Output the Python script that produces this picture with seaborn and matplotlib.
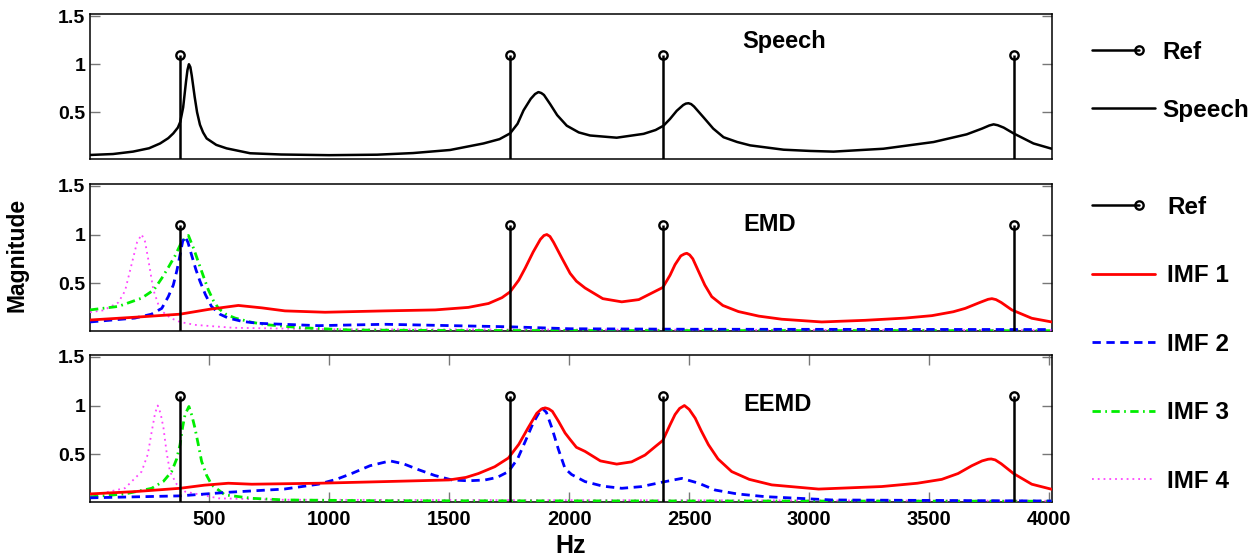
import numpy as np
import pandas as pd
import matplotlib
matplotlib.use("Agg")
import matplotlib.pyplot as plt
import seaborn as sns
from matplotlib.lines import Line2D
from matplotlib.legend_handler import HandlerBase

# ---------------------------------------------------------------- data
ref_hz = [379, 1754, 2390, 3852]
ref_mag = [1.1, 1.1, 1.1, 1.1]

speech_hz = [4, 100, 183, 250, 296, 330, 351, 370, 380, 392, 404, 410, 416, 422, 428, 440,
             450, 462, 475, 490, 530, 573, 671, 800, 1000, 1200, 1350, 1504, 1643, 1710,
             1754, 1785, 1810, 1840, 1858, 1872, 1884, 1895, 1921, 1950, 1990, 2040, 2087,
             2198, 2310, 2360, 2393, 2420, 2448, 2475, 2486, 2497, 2508, 2520, 2560, 2600,
             2643, 2700, 2754, 2893, 3004, 3101, 3309, 3518, 3656, 3720, 3750, 3768, 3785,
             3810, 3851, 3934, 4010]
speech_mag = [0.055, 0.065, 0.09, 0.125, 0.175, 0.23, 0.28, 0.34, 0.40, 0.55, 0.82, 0.94,
              1.0, 0.97, 0.88, 0.66, 0.50, 0.37, 0.29, 0.227, 0.16, 0.124, 0.073, 0.06,
              0.053, 0.058, 0.075, 0.107, 0.175, 0.22, 0.28, 0.38, 0.52, 0.64, 0.69, 0.71,
              0.70, 0.68, 0.584, 0.47, 0.36, 0.29, 0.258, 0.235, 0.275, 0.315, 0.36, 0.43,
              0.515, 0.575, 0.59, 0.594, 0.585, 0.56, 0.446, 0.33, 0.24, 0.19, 0.155, 0.11,
              0.097, 0.09, 0.12, 0.19, 0.27, 0.33, 0.362, 0.374, 0.365, 0.34, 0.28, 0.175,
              0.12]

# EMD intrinsic mode functions
emd_imf1_hz = [4, 200, 379, 500, 622, 720, 816, 983, 1233, 1442, 1580, 1664, 1720, 1754,
               1790, 1817, 1850, 1880, 1895, 1907, 1920, 1935, 1969, 2004, 2030, 2066, 2140,
               2219, 2290, 2330, 2390, 2420, 2441, 2465, 2480, 2490, 2502, 2515, 2539, 2565,
               2594, 2640, 2705, 2790, 2886, 3052, 3233, 3400, 3511, 3600, 3650, 3710, 3745,
               3761, 3778, 3800, 3844, 3927, 4010]
emd_imf1_mag = [0.12, 0.15, 0.18, 0.23, 0.27, 0.245, 0.214, 0.20, 0.214, 0.224, 0.25,
                0.29, 0.35, 0.41, 0.53, 0.655, 0.82, 0.95, 0.99, 1.0, 0.98, 0.92, 0.76,
                0.60, 0.52, 0.45, 0.34, 0.307, 0.33, 0.38, 0.455, 0.58, 0.69, 0.78, 0.80,
                0.807, 0.79, 0.75, 0.62, 0.48, 0.36, 0.27, 0.207, 0.16, 0.128, 0.10, 0.117,
                0.14, 0.165, 0.205, 0.24, 0.30, 0.333, 0.34, 0.33, 0.30, 0.224, 0.138, 0.10]

emd_imf2_hz = [4, 191, 260, 303, 330, 351, 366, 379, 390, 400, 412, 427, 445, 462, 485,
               510, 545, 580, 640, 705, 955, 1233, 1511, 1754, 2004, 2500, 4010]
emd_imf2_mag = [0.10, 0.14, 0.18, 0.24, 0.36, 0.48, 0.63, 0.79, 0.93, 0.98, 0.92, 0.79,
                0.64, 0.52, 0.38, 0.26, 0.18, 0.14, 0.105, 0.086, 0.062, 0.076, 0.062,
                0.05, 0.03, 0.025, 0.022]

emd_imf3_hz = [4, 122, 219, 270, 303, 330, 358, 385, 414, 435, 455, 475, 497, 518, 539,
               570, 608, 680, 747, 886, 1094, 1500, 4010]
emd_imf3_mag = [0.224, 0.26, 0.345, 0.43, 0.55, 0.66, 0.78, 0.92, 0.99, 0.86, 0.72, 0.58,
                0.43, 0.32, 0.24, 0.18, 0.14, 0.095, 0.07, 0.04, 0.017, 0.012, 0.01]

emd_imf4_hz = [4, 60, 122, 150, 178, 200, 219, 233, 247, 268, 296, 340, 379, 441, 600,
               1000, 4010]
emd_imf4_mag = [0.20, 0.22, 0.30, 0.42, 0.70, 0.92, 1.0, 0.93, 0.74, 0.43, 0.225, 0.14,
                0.10, 0.07, 0.04, 0.025, 0.015]

# EEMD intrinsic mode functions
eemd_imf1_hz = [4, 191, 379, 480, 580, 678, 955, 1233, 1500, 1570, 1622, 1690, 1747, 1790,
                1829, 1865, 1885, 1900, 1915, 1930, 1955, 1983, 2004, 2030, 2066, 2130,
                2198, 2260, 2316, 2360, 2390, 2420, 2441, 2460, 2480, 2500, 2525, 2550,
                2580, 2620, 2677, 2750, 2844, 3039, 3302, 3450, 3552, 3620, 3677, 3720,
                3745, 3758, 3775, 3800, 3851, 3927, 4010]
eemd_imf1_mag = [0.09, 0.114, 0.148, 0.18, 0.20, 0.19, 0.20, 0.217, 0.234, 0.26, 0.30,
                 0.37, 0.46, 0.60, 0.77, 0.92, 0.965, 0.976, 0.965, 0.94, 0.84, 0.717,
                 0.65, 0.57, 0.528, 0.43, 0.397, 0.42, 0.49, 0.58, 0.64, 0.80, 0.907,
                 0.97, 1.0, 0.96, 0.87, 0.74, 0.597, 0.45, 0.32, 0.24, 0.183, 0.14, 0.166,
                 0.20, 0.24, 0.30, 0.38, 0.43, 0.447, 0.45, 0.44, 0.40, 0.30, 0.19, 0.138]

eemd_imf2_hz = [4, 379, 580, 813, 955, 1030, 1094, 1170, 1254, 1310, 1372, 1440, 1511,
                1580, 1650, 1700, 1747, 1785, 1817, 1850, 1886, 1905, 1928, 1955, 1983,
                2010, 2066, 2140, 2219, 2300, 2386, 2469, 2540, 2608, 2700, 2816, 3094, 4010]
eemd_imf2_mag = [0.05, 0.07, 0.107, 0.14, 0.19, 0.24, 0.30, 0.38, 0.43, 0.40, 0.34, 0.28,
                 0.234, 0.225, 0.234, 0.26, 0.32, 0.45, 0.63, 0.82, 0.976, 0.93, 0.77,
                 0.55, 0.35, 0.29, 0.217, 0.17, 0.148, 0.165, 0.21, 0.25, 0.20, 0.13,
                 0.09, 0.062, 0.028, 0.017]

eemd_imf3_hz = [4, 150, 261, 310, 344, 365, 379, 390, 400, 416, 428, 441, 455, 469, 490,
                511, 566, 678, 816, 1200, 4010]
eemd_imf3_mag = [0.06, 0.09, 0.148, 0.22, 0.32, 0.45, 0.597, 0.78, 0.907, 0.99, 0.90,
                 0.77, 0.60, 0.424, 0.28, 0.183, 0.08, 0.045, 0.028, 0.02, 0.015]

eemd_imf4_hz = [4, 150, 219, 245, 261, 275, 286, 298, 310, 323, 337, 365, 400, 539, 800,
                4010]
eemd_imf4_mag = [0.07, 0.15, 0.32, 0.50, 0.73, 0.92, 1.0, 0.92, 0.77, 0.52, 0.32, 0.19,
                 0.114, 0.045, 0.03, 0.02]

x_ticks = [500, 1000, 1500, 2000, 2500, 3000, 3500, 4000]
y_ticks = [0.5, 1, 1.5]
y_tick_labels = ["0.5", "1", "1.5"]
panel_titles = ["Speech", "EMD", "EEMD"]
imf_labels = ["IMF 1", "IMF 2", "IMF 3", "IMF 4"]

# ---------------------------------------------------------------- style
sns.set_theme(style="ticks")
plt.rcParams["font.family"] = ["Liberation Sans", "DejaVu Sans"]
plt.rcParams["font.weight"] = "bold"
plt.rcParams["axes.labelweight"] = "bold"
plt.rcParams["text.color"] = "black"
plt.rcParams["axes.labelcolor"] = "black"
plt.rcParams["xtick.labelcolor"] = "black"
plt.rcParams["ytick.labelcolor"] = "black"

W, H = 1251, 558
fig = plt.figure(figsize=(W / 100, H / 100), dpi=100)
fig.patch.set_facecolor("white")


def fx(px):
    return px / W


def fy(py):
    return 1 - py / H


left, right = 90, 1051.7
panels_px = [(14.3, 159.3), (184.0, 330.7), (355.0, 501.7)]
axes = []
for top, bot in panels_px:
    ax = fig.add_axes([fx(left), fy(bot), fx(right - left), (bot - top) / H])
    axes.append(ax)

imf_styles = [
    dict(color="#ff0000", linewidth=2.0, linestyle="-"),
    dict(color="#0000ff", linewidth=2.0, linestyle=(0, (3, 2))),
    dict(color="#00ee00", linewidth=2.0, linestyle=(0, (3, 1.6, 0.6, 1.6))),
    dict(color="#ff44ff", linewidth=1.3, linestyle=(0, (1, 2.2))),
]
ref_line = dict(color="black", linewidth=1.8)
ref_marker = dict(marker="o", markersize=6, markerfacecolor="none",
                  markeredgecolor="black", markeredgewidth=1.7, linestyle="none")


def draw_ref(ax):
    ax.vlines(ref_hz, 0, ref_mag, **ref_line, zorder=4)
    ax.plot(ref_hz, ref_mag, **ref_marker, zorder=5)


def draw_curve(ax, hz, mag, style, z):
    df = pd.DataFrame({"Hz": hz, "Magnitude": mag})
    sns.lineplot(data=df, x="Hz", y="Magnitude", ax=ax, estimator=None, sort=False,
                 zorder=z, **style)


# top: speech spectrum
draw_ref(axes[0])
draw_curve(axes[0], speech_hz, speech_mag,
           dict(color="black", linewidth=1.8, linestyle="-"), 3)

# middle: EMD
emd = [(emd_imf1_hz, emd_imf1_mag), (emd_imf2_hz, emd_imf2_mag),
       (emd_imf3_hz, emd_imf3_mag), (emd_imf4_hz, emd_imf4_mag)]
draw_ref(axes[1])
for i, (hz, mag) in enumerate(emd):
    draw_curve(axes[1], hz, mag, imf_styles[i], 3 - i * 0.1)

# bottom: EEMD
eemd = [(eemd_imf1_hz, eemd_imf1_mag), (eemd_imf2_hz, eemd_imf2_mag),
        (eemd_imf3_hz, eemd_imf3_mag), (eemd_imf4_hz, eemd_imf4_mag)]
draw_ref(axes[2])
for i, (hz, mag) in enumerate(eemd):
    draw_curve(axes[2], hz, mag, imf_styles[i], 3 - i * 0.1)

title_pos = [(2896, 1.236), (2837, 1.10), (2870, 1.01)]
for ax, title, (tx, ty) in zip(axes, panel_titles, title_pos):
    ax.set_xlim(4, 4010)
    ax.set_ylim(0.01, 1.52)
    ax.set_yticks(y_ticks)
    ax.set_yticklabels(y_tick_labels)
    ax.set_xticks(x_ticks)
    ax.set_xlabel("")
    ax.set_ylabel("")
    for s in ax.spines.values():
        s.set_visible(True)
        s.set_color("black")
        s.set_linewidth(1.1)
    ax.tick_params(axis="y", direction="in", length=7, width=1.0, color="#777777",
                   left=True, right=True, labelsize=14, pad=3.5)
    ax.text(tx, ty, title, ha="center", va="center", fontsize=17, fontweight="bold",
            color="black")

for ax in axes[:2]:
    ax.tick_params(axis="x", bottom=False, top=False, labelbottom=False)
axes[2].tick_params(axis="x", direction="in", length=7, width=1.0, color="#777777",
                    bottom=True, top=True, labelsize=14.5, pad=6)

fig.text(fx(571), fy(546), "Hz", ha="center", va="center", fontsize=18, fontweight="bold")
fig.text(fx(17), fy(255), "Magnitude", ha="center", va="center", rotation=90,
         fontsize=16.5, fontweight="bold")


# legends
class RefHandler(HandlerBase):
    def create_artists(self, legend, orig_handle, xdescent, ydescent, width, height,
                       fontsize, trans):
        y = height / 2 - ydescent
        x0 = -xdescent
        x1 = x0 + width * 0.74
        line = Line2D([x0, x1], [y, y], transform=trans, **ref_line)
        mk = Line2D([x1], [y], transform=trans, **ref_marker)
        return [line, mk]


ref_handle = Line2D([], [], **ref_line)
speech_handle = Line2D([], [], color="black", linewidth=1.8)
imf_handles = [Line2D([], [], **st) for st in imf_styles]

fs = 17.5
hl = 63 / (fs * 100 / 72)
leg1 = fig.legend([ref_handle, speech_handle], ["Ref", "Speech"],
                  handler_map={ref_handle: RefHandler()},
                  loc="upper left", bbox_to_anchor=(fx(1092), fy(41)),
                  frameon=False, handlelength=hl, handletextpad=0.29,
                  labelspacing=1.42, borderpad=0, borderaxespad=0,
                  prop=dict(weight="bold", size=fs))
leg2 = fig.legend([ref_handle] + imf_handles, ["Ref"] + imf_labels,
                  handler_map={ref_handle: RefHandler()},
                  loc="upper left", bbox_to_anchor=(fx(1092), fy(196)),
                  frameon=False, handlelength=hl, handletextpad=0.5,
                  labelspacing=1.87, borderpad=0, borderaxespad=0,
                  prop=dict(weight="bold", size=fs))

fig.savefig("out.png", dpi=100, facecolor="white")
